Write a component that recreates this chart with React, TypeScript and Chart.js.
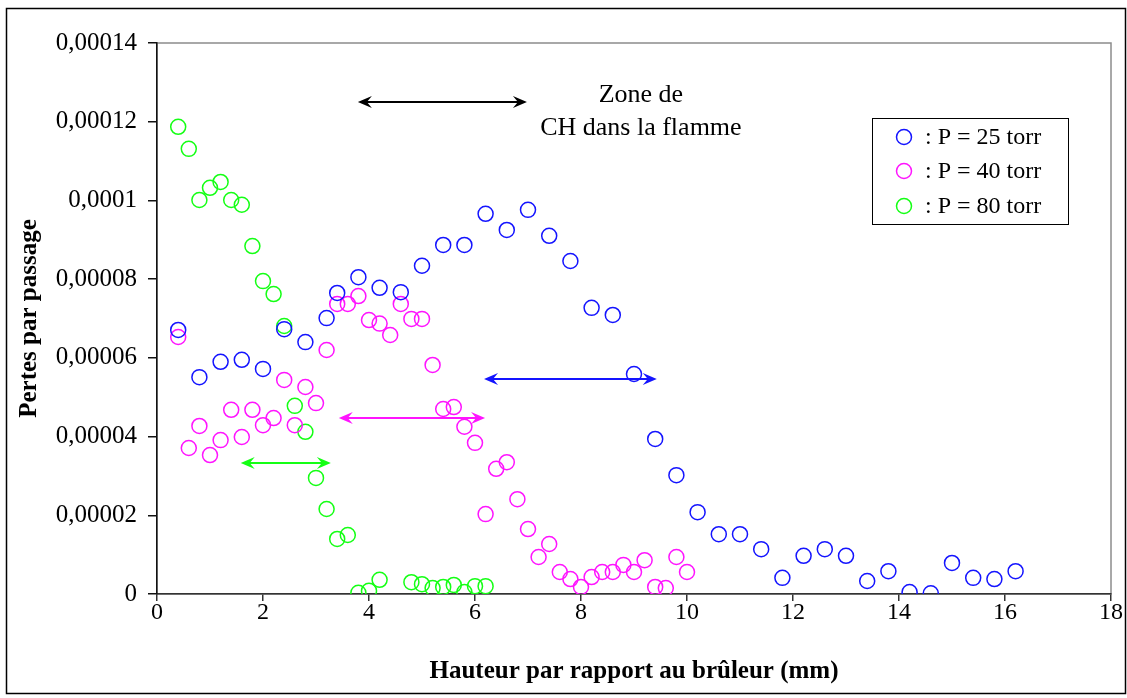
import React, { useEffect, useRef } from "react";
import { Chart, registerables } from "chart.js";

Chart.register(...registerables);

// ---- Data ----
const blueX = [0.4, 0.8, 1.2, 1.6, 2.0, 2.4, 2.8, 3.2, 3.4, 3.8, 4.2, 4.6, 5.0, 5.4, 5.8, 6.2, 6.6, 7.0, 7.4, 7.8, 8.2, 8.6, 9.0, 9.4, 9.8, 10.2, 10.6, 11.0, 11.4, 11.8, 12.2, 12.6, 13.0, 13.4, 13.8, 14.2, 14.6, 15.0, 15.4, 15.8, 16.2];
const blueY = [6.71e-5, 5.51e-5, 5.90e-5, 5.95e-5, 5.72e-5, 6.73e-5, 6.40e-5, 7.01e-5, 7.65e-5, 8.05e-5, 7.78e-5, 7.67e-5, 8.34e-5, 8.87e-5, 8.87e-5, 9.66e-5, 9.25e-5, 9.76e-5, 9.10e-5, 8.46e-5, 7.27e-5, 7.09e-5, 5.59e-5, 3.94e-5, 3.02e-5, 2.08e-5, 1.52e-5, 1.52e-5, 1.14e-5, 0.41e-5, 0.97e-5, 1.14e-5, 0.97e-5, 0.33e-5, 0.58e-5, 0.05e-5, 0.02e-5, 0.79e-5, 0.41e-5, 0.38e-5, 0.58e-5];

const magentaX = [0.4, 0.6, 0.8, 1.0, 1.2, 1.4, 1.6, 1.8, 2.0, 2.2, 2.4, 2.6, 2.8, 3.0, 3.2, 3.4, 3.6, 3.8, 4.0, 4.2, 4.4, 4.6, 4.8, 5.0, 5.2, 5.4, 5.6, 5.8, 6.0, 6.2, 6.4, 6.6, 6.8, 7.0, 7.2, 7.4, 7.6, 7.8, 8.0, 8.2, 8.4, 8.6, 8.8, 9.0, 9.2, 9.4, 9.6, 9.8, 10.0];
const magentaY = [6.53e-5, 3.71e-5, 4.27e-5, 3.53e-5, 3.91e-5, 4.68e-5, 3.99e-5, 4.68e-5, 4.29e-5, 4.47e-5, 5.44e-5, 4.29e-5, 5.26e-5, 4.85e-5, 6.20e-5, 7.37e-5, 7.37e-5, 7.57e-5, 6.96e-5, 6.87e-5, 6.58e-5, 7.37e-5, 6.99e-5, 6.99e-5, 5.82e-5, 4.70e-5, 4.75e-5, 4.25e-5, 3.84e-5, 2.03e-5, 3.18e-5, 3.35e-5, 2.41e-5, 1.65e-5, 0.94e-5, 1.27e-5, 0.56e-5, 0.38e-5, 0.18e-5, 0.43e-5, 0.56e-5, 0.56e-5, 0.74e-5, 0.56e-5, 0.86e-5, 0.18e-5, 0.15e-5, 0.94e-5, 0.56e-5];

const greenX = [0.4, 0.6, 0.8, 1.0, 1.2, 1.4, 1.6, 1.8, 2.0, 2.2, 2.4, 2.6, 2.8, 3.0, 3.2, 3.4, 3.6, 3.8, 4.0, 4.2, 4.8, 5.0, 5.2, 5.4, 5.6, 5.8, 6.0, 6.2];
const greenY = [11.87e-5, 11.31e-5, 10.01e-5, 10.32e-5, 10.47e-5, 10.01e-5, 9.89e-5, 8.84e-5, 7.95e-5, 7.62e-5, 6.81e-5, 4.78e-5, 4.12e-5, 2.95e-5, 2.16e-5, 1.40e-5, 1.50e-5, 0.03e-5, 0.08e-5, 0.36e-5, 0.30e-5, 0.25e-5, 0.15e-5, 0.18e-5, 0.23e-5, 0.05e-5, 0.20e-5, 0.20e-5];

const seriesLabels = [": P = 25 torr", ": P = 40 torr", ": P = 80 torr"];
const seriesColors = ["#1414ff", "#ff14ff", "#14ff14"];

// annotation arrows
const arrowX1 = [3.79, 6.17, 3.43, 1.58];
const arrowX2 = [6.98, 9.43, 6.19, 3.28];
const arrowY = [12.5e-5, 5.46e-5, 4.47e-5, 3.33e-5];
const arrowColors = ["#000000", "#1414ff", "#ff14ff", "#14ff14"];

const zoneLines = ["Zone de", "CH dans la flamme"];
const zoneX = 9.13;
const zoneY = [12.68e-5, 11.84e-5];

const xTitle = "Hauteur par rapport au brûleur (mm)";
const yTitle = "Pertes par passage";

const SERIF = "'Liberation Serif', 'Times New Roman', serif";

function toPoints(xs: number[], ys: number[]) {
  return xs.map((x, i) => ({ x, y: ys[i] }));
}

function drawArrowHead(ctx: CanvasRenderingContext2D, x: number, y: number, dir: number) {
  const L = 14;
  const W = 6;
  const N = 9;
  ctx.beginPath();
  ctx.moveTo(x, y);
  ctx.lineTo(x - dir * L, y - W);
  ctx.lineTo(x - dir * N, y);
  ctx.lineTo(x - dir * L, y + W);
  ctx.closePath();
  ctx.fill();
}

const decorPlugin = {
  id: "decor",
  beforeDraw(chart: any) {
    const { ctx, width, height, chartArea } = chart;
    ctx.save();
    ctx.fillStyle = "#ffffff";
    ctx.fillRect(0, 0, width, height);
    ctx.strokeStyle = "#000000";
    ctx.lineWidth = 1.5;
    ctx.strokeRect(6.5, 8.5, width - 8, height - 13);
    ctx.strokeStyle = "#8c8c8c";
    ctx.lineWidth = 1.5;
    ctx.strokeRect(chartArea.left, chartArea.top, chartArea.right - chartArea.left, chartArea.bottom - chartArea.top);
    ctx.restore();
  },
  afterDatasetsDraw(chart: any) {
    const { ctx, chartArea } = chart;
    const xs = chart.scales.x;
    const ys = chart.scales.y;
    ctx.save();
    for (let i = 0; i < arrowX1.length; i++) {
      const x1 = xs.getPixelForValue(arrowX1[i]);
      const x2 = xs.getPixelForValue(arrowX2[i]);
      const y = ys.getPixelForValue(arrowY[i]);
      ctx.strokeStyle = arrowColors[i];
      ctx.fillStyle = arrowColors[i];
      ctx.lineWidth = 2;
      ctx.beginPath();
      ctx.moveTo(x1 + 8, y);
      ctx.lineTo(x2 - 8, y);
      ctx.stroke();
      drawArrowHead(ctx, x1, y, -1);
      drawArrowHead(ctx, x2, y, 1);
    }
    ctx.fillStyle = "#000000";
    ctx.font = `26px ${SERIF}`;
    ctx.textAlign = "center";
    ctx.textBaseline = "middle";
    zoneLines.forEach((t, i) => {
      ctx.fillText(t, xs.getPixelForValue(zoneX), ys.getPixelForValue(zoneY[i]));
    });
    const bx = chartArea.right - 239;
    const by = chartArea.top + 75;
    ctx.fillStyle = "#ffffff";
    ctx.fillRect(bx, by, 196, 106);
    ctx.strokeStyle = "#000000";
    ctx.lineWidth = 1;
    ctx.strokeRect(bx + 0.5, by + 0.5, 196, 106);
    const rows = [19, 53, 88];
    ctx.textAlign = "left";
    ctx.font = `24px ${SERIF}`;
    seriesLabels.forEach((lab, i) => {
      ctx.beginPath();
      ctx.arc(bx + 32, by + rows[i], 7.5, 0, Math.PI * 2);
      ctx.strokeStyle = seriesColors[i];
      ctx.lineWidth = 1.5;
      ctx.stroke();
      ctx.fillStyle = "#000000";
      ctx.fillText(lab, bx + 53, by + rows[i] + 1);
    });
    ctx.restore();
  },
};

function fmt(v: number) {
  return String(+v.toFixed(6)).replace(".", ",");
}

export default function App() {
  const ref = useRef<HTMLCanvasElement | null>(null);
  useEffect(() => {
    document.body.style.margin = "0";
    const canvas = ref.current!;
    const ds = [
      { data: toPoints(blueX, blueY), color: seriesColors[0], label: seriesLabels[0] },
      { data: toPoints(magentaX, magentaY), color: seriesColors[1], label: seriesLabels[1] },
      { data: toPoints(greenX, greenY), color: seriesColors[2], label: seriesLabels[2] },
    ];
    const chart = new Chart(canvas, {
      type: "scatter",
      data: {
        datasets: ds.map((d) => ({
          label: d.label,
          data: d.data,
          pointStyle: "circle",
          pointRadius: 7.5,
          pointHoverRadius: 7.5,
          borderColor: d.color,
          backgroundColor: "rgba(0,0,0,0)",
          borderWidth: 1.5,
          showLine: false,
        })),
      },
      options: {
        animation: false,
        responsive: false,
        maintainAspectRatio: false,
        layout: { padding: { left: 0, top: 43, right: 16, bottom: 0 } },
        plugins: { legend: { display: false }, tooltip: { enabled: false } },
        scales: {
          x: {
            type: "linear",
            min: 0,
            max: 18,
            afterFit: (s: any) => { s.height = 104; },
            border: { display: true, color: "#333333", width: 1.5 },
            grid: { drawOnChartArea: false, drawTicks: true, tickLength: 7, color: "#333333", lineWidth: 1.5 },
            ticks: { stepSize: 2, padding: 0, color: "#000", font: { family: SERIF, size: 24, lineHeight: 1 }, maxRotation: 0 },
            title: { display: true, text: xTitle, color: "#000", font: { family: SERIF, size: 25, weight: "bold", lineHeight: 1.2 }, padding: { top: 0, bottom: 11 } },
          },
          y: {
            type: "linear",
            min: 0,
            max: 0.00014,
            afterFit: (s: any) => { s.width = 157; },
            border: { display: true, color: "#111111", width: 1.5 },
            grid: { drawOnChartArea: false, drawTicks: true, tickLength: 9, color: "#111111", lineWidth: 1.5 },
            ticks: { stepSize: 0.00002, padding: 11, color: "#000", font: { family: SERIF, size: 25 }, callback: (v: any) => fmt(Number(v)) },
            title: { display: true, text: yTitle, color: "#000", font: { family: SERIF, size: 25, weight: "bold", lineHeight: 1.2 }, padding: { top: 15, bottom: 0 } },
          },
        },
      },
      plugins: [decorPlugin],
    } as any);
    return () => chart.destroy();
  }, []);
  return (
    <div style={{ width: 1127, height: 698 }}>
      <canvas ref={ref} width={1127} height={698} style={{ display: "block" }} />
    </div>
  );
}
